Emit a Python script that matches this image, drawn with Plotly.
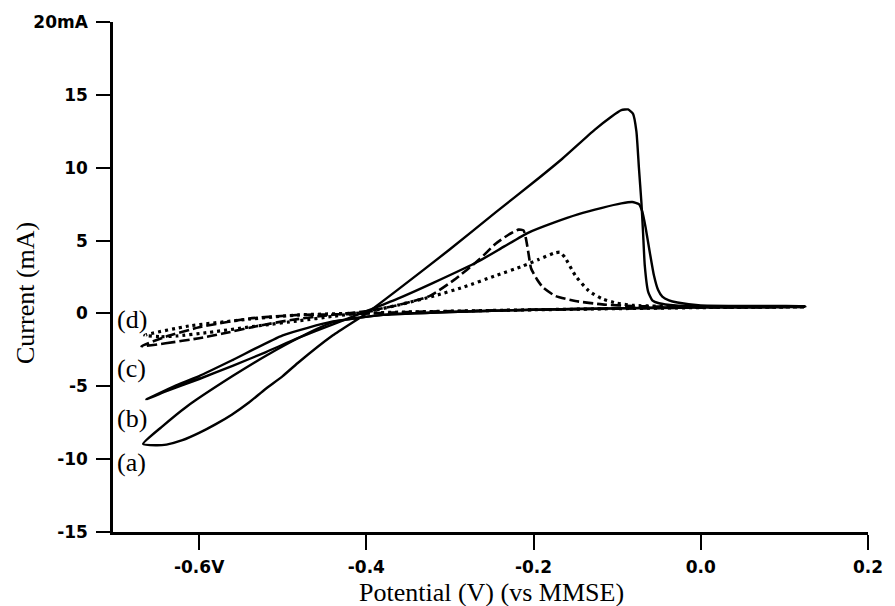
import plotly.graph_objects as go

# Cyclic voltammograms (a)-(d): potential in V vs MMSE, current in mA.
# Each loop: cathodic vertex -> anodic sweep -> passivation drop -> return sweep.
pot_a = [-0.667, -0.652, -0.639, -0.62, -0.60, -0.58, -0.561, -0.54, -0.521, -0.50, -0.482,
         -0.44, -0.40, -0.363, -0.30, -0.245, -0.20, -0.166, -0.127, -0.107, -0.095, -0.087,
         -0.081, -0.077, -0.074, -0.071, -0.069, -0.067, -0.063, -0.058, -0.050, -0.030,
         0.0, 0.06, 0.125,
         0.06, 0.0, -0.10, -0.20, -0.30, -0.38, -0.44, -0.48, -0.52, -0.56, -0.615, -0.645, -0.667]
cur_a = [-8.95, -9.05, -9.0, -8.7, -8.2, -7.6, -6.95, -6.1, -5.2, -4.3, -3.4,
         -1.5, 0.0, 1.6, 4.4, 6.95, 9.0, 10.6, 12.6, 13.5, 13.95, 14.0,
         13.7, 12.5, 10.0, 7.6, 5.5, 3.3, 1.5, 0.9, 0.7, 0.55,
         0.5, 0.45, 0.45,
         0.4, 0.4, 0.35, 0.25, 0.1, -0.1, -0.6, -1.65, -2.9, -4.3, -6.4, -7.8, -8.95]

pot_b = [-0.663, -0.64, -0.60, -0.56, -0.52, -0.482, -0.44, -0.40, -0.363, -0.32, -0.265,
         -0.235, -0.206, -0.175, -0.147, -0.118, -0.095, -0.082, -0.074, -0.070, -0.066,
         -0.061, -0.056, -0.051, -0.046, -0.038, -0.028, 0.0, 0.125,
         0.0, -0.10, -0.20, -0.30, -0.38, -0.44, -0.50, -0.56, -0.60, -0.63, -0.663]
cur_b = [-5.9, -5.35, -4.5, -3.6, -2.65, -1.7, -0.75, 0.15, 1.0, 2.1, 3.6,
         4.6, 5.55, 6.25, 6.8, 7.25, 7.55, 7.65, 7.5, 7.0, 5.9,
         4.2, 2.6, 1.6, 1.15, 0.9, 0.75, 0.55, 0.5,
         0.45, 0.35, 0.25, 0.1, -0.1, -0.55, -1.5, -3.2, -4.3, -5.0, -5.9]

pot_c = [-0.669, -0.64, -0.60, -0.573, -0.529, -0.49, -0.45, -0.40, -0.36, -0.324, -0.295,
         -0.265, -0.245, -0.23, -0.218, -0.212, -0.209, -0.206, -0.203, -0.196, -0.189,
         -0.174, -0.150, -0.118, -0.08, 0.0, 0.125,
         0.0, -0.20, -0.35, -0.42, -0.48, -0.54, -0.60, -0.64, -0.669]
cur_c = [-2.25, -2.05, -1.7, -1.4, -0.85, -0.45, -0.15, 0.15, 0.6, 1.2, 2.3,
         3.7, 4.8, 5.4, 5.75, 5.7, 5.1, 4.1, 3.1, 2.35, 1.8,
         1.2, 0.85, 0.62, 0.5, 0.45, 0.45,
         0.4, 0.25, 0.1, -0.05, -0.1, -0.35, -0.95, -1.6, -2.25]

pot_d = [-0.665, -0.645, -0.627, -0.588, -0.529, -0.48, -0.44, -0.40, -0.36, -0.319, -0.284,
         -0.245, -0.213, -0.194, -0.175, -0.168, -0.162, -0.150, -0.134, -0.118, -0.10,
         -0.08, 0.0, 0.125,
         0.0, -0.20, -0.35, -0.42, -0.48, -0.541, -0.612, -0.665]
cur_d = [-1.5, -1.6, -1.55, -1.3, -0.85, -0.5, -0.2, 0.1, 0.6, 1.2, 1.8,
         2.6, 3.25, 3.7, 4.15, 4.2, 3.8, 2.6, 1.55, 1.0, 0.7,
         0.55, 0.45, 0.45,
         0.4, 0.25, 0.1, 0.0, -0.1, -0.4, -0.86, -1.5]

x_tick_vals = [-0.6, -0.4, -0.2, 0.0, 0.2]
x_tick_text = ["-0.6V", "-0.4", "-0.2", "0.0", "0.2"]
y_tick_vals = [20, 15, 10, 5, 0, -5, -10, -15]
y_tick_text = ["20mA", "15", "10", "5", "0", "-5", "-10", "-15"]

curve_labels = ["(d)", "(c)", "(b)", "(a)"]
curve_label_y = [-0.45, -3.75, -7.2, -10.2]

x_range = [-0.703, 0.2]
y_range = [-15, 20]

INK = "black"
fig = go.Figure()

series = [
    (pot_a, cur_a, "solid", 2.4),
    (pot_b, cur_b, "solid", 2.4),
    (pot_c, cur_c, "10px,4px", 2.6),
    (pot_d, cur_d, "3px,4px", 3.2),
]
for xs, ys, dash, w in series:
    fig.add_trace(go.Scatter(
        x=xs, y=ys, mode="lines",
        line=dict(color=INK, width=w, dash=dash, shape="spline", smoothing=0.5),
        showlegend=False, hoverinfo="skip",
    ))

tick_font = dict(family="DejaVu Sans", size=17, color=INK, weight="bold")
serif = "Liberation Serif"

fig.update_xaxes(
    range=x_range, showline=True, linecolor=INK, linewidth=2.5,
    ticks="outside", ticklen=15, tickwidth=2.2, tickcolor=INK,
    tickvals=x_tick_vals, ticktext=x_tick_text, tickfont=tick_font,
    ticklabelstandoff=3, showgrid=False, zeroline=False, mirror=False,
)
fig.update_yaxes(
    range=y_range, showline=True, linecolor=INK, linewidth=2.5,
    ticks="outside", ticklen=14, tickwidth=2.2, tickcolor=INK,
    tickvals=y_tick_vals, ticktext=y_tick_text, tickfont=tick_font,
    ticklabelstandoff=5, showgrid=False, zeroline=False, mirror=False,
)

annotations = [
    dict(text="Potential (V) (vs MMSE)", xref="paper", yref="paper", x=0.5007, y=-0.1196,
         xanchor="center", yanchor="middle", showarrow=False,
         font=dict(family=serif, size=26, color=INK)),
    dict(text="Current (mA)", xref="paper", yref="paper", x=-0.1166, y=0.4686,
         xanchor="center", yanchor="middle", textangle=-90, showarrow=False,
         font=dict(family=serif, size=26, color=INK)),
]
for lbl, yv in zip(curve_labels, curve_label_y):
    annotations.append(dict(text=lbl, xref="paper", yref="y", x=0.0026, y=yv,
                            xanchor="left", yanchor="middle", showarrow=False,
                            font=dict(family=serif, size=26, color=INK)))

fig.update_layout(
    width=895, height=606,
    margin=dict(l=113, r=19, t=22, b=74),
    paper_bgcolor="white", plot_bgcolor="white",
    annotations=annotations,
)

fig.write_html("out.html")
